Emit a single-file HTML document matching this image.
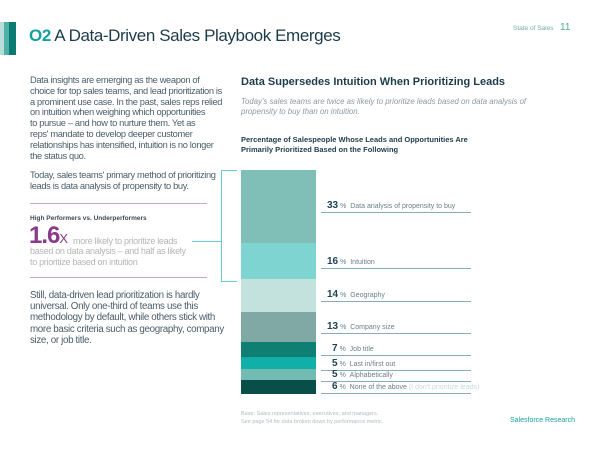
<!DOCTYPE html><html><head><style>
body{margin:0;width:600px;height:450px;background:#fff;position:relative;overflow:hidden;font-family:"Liberation Sans",sans-serif}
.a{position:absolute;white-space:nowrap}
.p{font-size:9.3px;color:#4a5e6a;letter-spacing:-0.35px;line-height:10.8px;left:30px}
.lab{position:absolute;left:321px;width:150px;border-bottom:1px solid #8ab;font-size:7px;color:#6a7f88;white-space:nowrap;height:12px}
.lab b{font-size:10px;color:#1d4355;margin-right:2px}
.bar{position:absolute;left:241px;width:75px}
</style></head><body>
<div class="a" style="left:0;top:22px;width:4px;height:33px;background:#b8ddd8"></div>
<div class="a" style="left:4px;top:22px;width:5px;height:33px;background:#4fb0a5"></div>
<div class="a" style="left:9px;top:22px;width:7px;height:33px;background:#0b7a70"></div>
<div class="a" style="left:29px;top:26px;font-size:17px;color:#1d3b4a;letter-spacing:-0.4px"><b style="color:#10a0a0">O2</b> A Data-Driven Sales Playbook Emerges</div>
<div class="a" style="left:513px;top:25px;font-size:6.5px;color:#7aa"> State of Sales</div>
<div class="a" style="left:560px;top:22px;font-size:10px;color:#5a9"> 11</div>

<div class="a p" style="top:75px">Data insights are emerging as the weapon of<br>choice for top sales teams, and lead prioritization is<br>a prominent use case. In the past, sales reps relied<br>on intuition when weighing which opportunities<br>to pursue – and how to nurture them. Yet as<br>reps' mandate to develop deeper customer<br>relationships has intensified, intuition is no longer<br>the status quo.</div>
<div class="a p" style="top:170px">Today, sales teams' primary method of prioritizing<br>leads is data analysis of propensity to buy.</div>
<div class="a" style="left:30px;top:203px;width:177px;border-top:1px solid #c8a8c8"></div>
<div class="a" style="left:30px;top:215px;font-size:6.5px;font-weight:bold;color:#3a4a55">High Performers vs. Underperformers</div>
<div class="a" style="left:29px;top:222px;font-size:24px;font-weight:bold;color:#8a3a8a;letter-spacing:-1px">1.6<span style="font-size:13px;font-weight:normal;letter-spacing:0">X</span></div>
<div class="a" style="left:73px;top:236px;font-size:9px;color:#b5b5b5;letter-spacing:-0.3px">more likely to prioritize leads</div>
<div class="a" style="left:30px;top:246px;font-size:9px;color:#b5b5b5;letter-spacing:-0.3px;line-height:10.5px">based on data analysis – and half as likely<br>to prioritize based on intuition</div>
<div class="a" style="left:30px;top:277px;width:177px;border-top:1px solid #c8a8c8"></div>
<div class="a p" style="top:290px;font-size:9.8px;line-height:11.2px">Still, data-driven lead prioritization is hardly<br>universal. Only one-third of teams use this<br>methodology by default, while others stick with<br>more basic criteria such as geography, company<br>size, or job title.</div>

<div class="a" style="left:221px;top:170px;width:15px;height:110px;border:1px solid #6cc;border-right:none"></div>
<div class="a" style="left:192px;top:241px;width:29px;border-top:1px solid #6cc"></div>

<div class="a" style="left:241px;top:76px;font-size:11px;font-weight:bold;color:#1d3b4a">Data Supersedes Intuition When Prioritizing Leads</div>
<div class="a" style="left:241px;top:97px;font-size:7.8px;font-style:italic;color:#8a9aa5;line-height:10px">Today's sales teams are twice as likely to prioritize leads based on data analysis of<br>propensity to buy than on intuition.</div>
<div class="a" style="left:241px;top:135px;font-size:7.5px;font-weight:bold;color:#1d3b4a;line-height:9.5px">Percentage of Salespeople Whose Leads and Opportunities Are<br>Primarily Prioritized Based on the Following</div>

<div class="bar" style="top:170px;height:73px;background:#80bfb8"></div>
<div class="bar" style="top:243px;height:36px;background:#7ed4d0"></div>
<div class="bar" style="top:279px;height:33px;background:#c3e2dd"></div>
<div class="bar" style="top:312px;height:30px;background:#80a8a5"></div>
<div class="bar" style="top:342px;height:15px;background:#0f7f74"></div>
<div class="bar" style="top:357px;height:12px;background:#10b0a8"></div>
<div class="bar" style="top:369px;height:11px;background:#72bbb3"></div>
<div class="bar" style="top:380px;height:14px;background:#0a4e4a"></div>

<div class="lab" style="top:200px"><b style="margin-left:6px">33</b>% &nbsp;Data analysis of propensity to buy</div>
<div class="lab" style="top:256px"><b style="margin-left:6px">16</b>% &nbsp;Intuition</div>
<div class="lab" style="top:289px"><b style="margin-left:6px">14</b>% &nbsp;Geography</div>
<div class="lab" style="top:321px"><b style="margin-left:6px">13</b>% &nbsp;Company size</div>
<div class="lab" style="top:343px"><b style="margin-left:11px">7</b>% &nbsp;Job title</div>
<div class="lab" style="top:358px"><b style="margin-left:11px">5</b>% &nbsp;Last in/first out</div>
<div class="lab" style="top:369px"><b style="margin-left:11px">5</b>% &nbsp;Alphabetically</div>
<div class="lab" style="top:381px"><b style="margin-left:11px">6</b>% &nbsp;None of the above <span style="color:#c8d8d8">(I don't prioritize leads)</span></div>

<div class="a" style="left:241px;top:411px;font-size:5.5px;color:#b0bcc0;line-height:7.5px">Base: Sales representatives, executives, and managers.<br>See page 54 for data broken down by performance metric.</div>
<div class="a" style="left:510px;top:417px;font-size:7px;color:#1aa0a0">Salesforce Research</div>
</body></html>
